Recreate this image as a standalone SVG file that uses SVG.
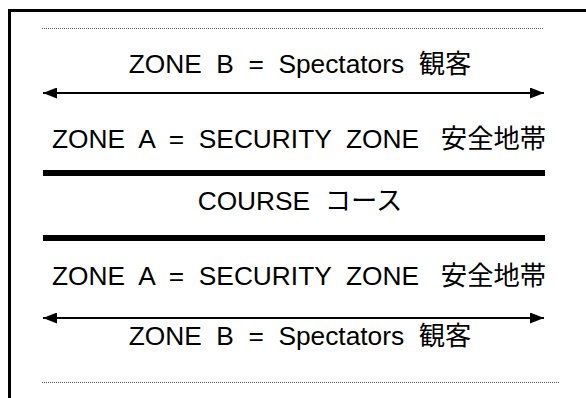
<svg xmlns="http://www.w3.org/2000/svg" width="586" height="398" viewBox="0 0 586 398">
<style>
.t{font-family:"Liberation Sans","Noto Sans CJK JP",Arial,sans-serif;font-size:26.3px;fill:#000;text-anchor:middle;white-space:pre}
.dot{stroke:#555;stroke-width:1;stroke-dasharray:1 1;fill:none}
.arr{stroke:#000;stroke-width:2;fill:none}
.thick{stroke:#000;stroke-width:6;fill:none}
.border{stroke:#000;stroke-width:3;fill:none}
</style>
<defs>
<marker id="ah" viewBox="0 0 14 11" refX="14" refY="5.5" markerWidth="14" markerHeight="11" markerUnits="userSpaceOnUse" orient="auto-start-reverse">
<path d="M0,0 L14,5.5 L0,11 Z" fill="#000"/>
</marker>
</defs>
<g id="frame">
<path class="border" d="M9.5,398 V10.5 H586"/>
</g>
<g id="connectors">
<line class="dot" x1="42" y1="28.5" x2="543" y2="28.5"/>
<line class="arr" x1="43" y1="93" x2="544" y2="93" marker-start="url(#ah)" marker-end="url(#ah)"/>
<line class="thick" x1="43" y1="173" x2="545" y2="173"/>
<line class="thick" x1="43" y1="238" x2="545" y2="238"/>
<line class="arr" x1="43" y1="318" x2="544" y2="318" marker-start="url(#ah)" marker-end="url(#ah)"/>
<line class="dot" x1="42" y1="382.5" x2="559" y2="382.5"/>
</g>
<g id="zoneB-top"><text class="t" x="300" y="73">ZONE  B  =  Spectators  観客</text></g>
<g id="zoneA-top"><text class="t" x="299" y="148">ZONE  A  =  SECURITY  ZONE   安全地帯</text></g>
<g id="course"><text class="t" x="300" y="210">COURSE  コース</text></g>
<g id="zoneA-bottom"><text class="t" x="299" y="285">ZONE  A  =  SECURITY  ZONE   安全地帯</text></g>
<g id="zoneB-bottom"><text class="t" x="300" y="345">ZONE  B  =  Spectators  観客</text></g>
</svg>
